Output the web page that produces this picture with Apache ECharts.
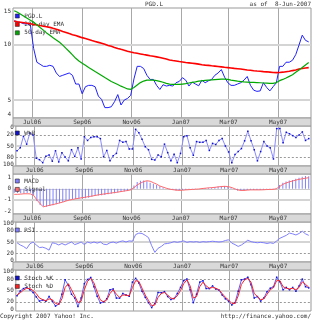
<!DOCTYPE html>
<html>
<head>
<meta charset="UTF-8">
<title>PGD.L</title>
<script src="https://cdn.jsdelivr.net/npm/echarts@6/dist/echarts.min.js"></script>
<style>
html,body{margin:0;padding:0;background:#fff;}
#main{width:313px;height:320px;}
</style>
</head>
<body>
<div id="main"></div>
<script>
// samples every 4 calendar days, 9-Jun-2006 .. 8-Jun-2007
var price = [13.4,13.2,13.1,12.9,12.9,12.7,9.5,8.0,7.8,7.6,
  7.6,7.7,7.6,7.0,6.7,6.8,6.9,7.0,6.8,6.1,
  6.1,5.4,5.9,6.0,6.0,5.9,5.25,5.04,4.55,4.55,
  4.6,4.9,5.35,4.7,5.0,5.1,5.3,6.5,7.6,7.6,
  7.4,6.8,6.46,6.46,6.0,5.7,6.05,5.95,6.0,5.95,
  6.2,6.3,6.6,6.4,5.95,6.25,6.1,5.97,6.4,6.2,
  6.35,6.46,6.8,7.0,7.3,6.65,6.2,6.0,6.0,6.1,
  6.2,6.4,6.7,6.0,5.65,5.57,5.6,6.2,5.85,5.6,
  5.9,6.2,7.6,7.6,8.0,8.0,8.2,8.8,9.9,11.2,
  10.5,10.3];
var ema200 = [13.33,13.24,13.16,13.08,13.0,12.92,12.8,12.71,12.63,12.52,
  12.43,12.34,12.19,12.05,11.89,11.73,11.59,11.42,11.27,11.14,
  11.0,10.86,10.74,10.61,10.48,10.36,10.24,10.12,9.99,9.86,
  9.75,9.62,9.5,9.39,9.29,9.18,9.08,9.0,8.94,8.87,
  8.8,8.74,8.67,8.61,8.55,8.48,8.4,8.32,8.23,8.17,
  8.12,8.07,8.03,7.98,7.94,7.9,7.86,7.81,7.76,7.72,
  7.69,7.65,7.62,7.59,7.55,7.51,7.48,7.45,7.41,7.38,
  7.35,7.31,7.27,7.24,7.2,7.17,7.15,7.12,7.1,7.07,
  7.04,7.03,7.04,7.07,7.11,7.15,7.21,7.27,7.35,7.4,
  7.45,7.48];
var ema50 = [15.18,14.9,14.54,14.18,13.83,13.49,13.16,12.76,12.33,11.92,
  11.52,11.19,10.86,10.56,10.25,9.9,9.51,9.14,8.77,8.4,
  8.12,7.91,7.7,7.49,7.31,7.13,6.96,6.79,6.62,6.46,
  6.3,6.18,6.06,5.94,5.84,5.74,5.71,5.85,6.03,6.21,
  6.33,6.4,6.41,6.4,6.36,6.3,6.24,6.15,6.09,6.07,
  6.07,6.07,6.1,6.13,6.18,6.23,6.27,6.32,6.35,6.38,
  6.41,6.42,6.44,6.46,6.48,6.48,6.46,6.41,6.37,6.32,
  6.29,6.26,6.25,6.23,6.22,6.21,6.2,6.18,6.17,6.15,
  6.15,6.21,6.36,6.46,6.58,6.71,6.85,7.07,7.27,7.49,
  7.73,7.97];
var wpr = [63,55,24,45,15,20,83,87,95,78,
  74,91,63,93,68,80,90,60,78,55,
  85,25,35,27,25,25,30,79,62,90,
  76,70,35,40,38,58,58,5,14,32,
  52,60,86,88,74,79,45,68,90,72,
  95,70,25,22,55,75,38,40,40,35,
  62,43,46,35,30,50,66,95,73,65,
  57,36,10,36,60,90,65,38,50,55,
  85,3,3,41,13,17,22,27,20,12,
  35,30];
var macd = [-0.35,-0.38,-0.4,-0.42,-0.38,-0.35,-0.6,-1.1,-1.45,-1.6,
  -1.62,-1.55,-1.48,-1.4,-1.3,-1.2,-1.1,-1.0,-0.95,-0.92,
  -0.9,-0.88,-0.85,-0.8,-0.72,-0.65,-0.6,-0.58,-0.55,-0.5,
  -0.45,-0.4,-0.33,-0.3,-0.25,-0.2,-0.12,0.3,0.6,0.72,
  0.75,0.68,0.55,0.45,0.35,0.22,0.12,0.02,-0.05,-0.1,
  -0.15,-0.15,-0.12,-0.08,-0.07,-0.05,-0.03,0.0,0.05,0.07,
  0.1,0.12,0.15,0.2,0.25,0.25,0.2,0.1,-0.05,-0.15,
  -0.18,-0.15,-0.1,-0.08,-0.1,-0.12,-0.1,-0.08,-0.06,-0.05,
  -0.04,0.05,0.35,0.55,0.65,0.75,0.8,0.9,1.0,1.08,
  1.15,1.12];
var signal = [-0.5,-0.5,-0.48,-0.45,-0.45,-0.46,-0.6,-1.0,-1.35,-1.62,
  -1.55,-1.48,-1.42,-1.35,-1.27,-1.2,-1.1,-1.02,-0.96,-0.9,
  -0.85,-0.8,-0.76,-0.7,-0.66,-0.6,-0.55,-0.5,-0.46,-0.42,
  -0.38,-0.34,-0.3,-0.25,-0.2,-0.16,-0.1,0.1,0.35,0.5,
  0.65,0.72,0.68,0.55,0.42,0.25,0.15,0.05,-0.03,-0.08,
  -0.12,-0.14,-0.13,-0.1,-0.08,-0.06,-0.04,-0.02,0.02,0.05,
  0.08,0.1,0.13,0.17,0.2,0.22,0.2,0.13,0.02,-0.1,
  -0.15,-0.15,-0.12,-0.1,-0.1,-0.1,-0.1,-0.09,-0.07,-0.06,
  -0.05,0.0,0.2,0.4,0.52,0.62,0.7,0.78,0.85,0.9,
  0.95,1.0];
var rsi = [48,42,38,32,45,50,42,35,36,33,
  28,48,46,42,46,42,46,50,43,46,
  50,43,50,47,50,47,50,44,43,48,
  50,47,51,53,50,53,52,70,74,73,
  68,62,40,22,33,38,45,46,48,51,
  49,51,53,49,51,50,51,49,51,50,
  51,52,51,50,51,54,56,47,43,38,
  42,48,55,51,49,48,49,48,46,48,
  46,53,60,64,68,74,72,69,73,79,
  72,68];
var stochK = [36,49,55,58,52,45,33,22,25,22,
  34,22,9,14,40,78,64,40,30,8,
  30,68,79,84,60,35,17,20,28,52,
  54,30,30,42,38,35,72,82,70,48,
  32,18,5,16,45,44,47,34,26,29,
  42,58,76,80,52,18,40,72,76,55,
  55,62,54,51,38,28,22,12,18,48,
  78,80,85,65,30,34,22,30,47,56,
  60,85,73,52,58,52,58,48,62,80,
  60,57];
var stochD = [38,44,51,56,55,50,42,30,26,23,
  28,26,16,13,28,58,68,52,36,18,
  22,52,74,82,70,46,25,20,25,42,
  52,40,32,38,38,36,58,76,74,56,
  38,24,10,12,32,42,45,38,30,28,
  36,50,68,78,62,30,34,60,72,62,
  56,58,56,52,42,32,25,16,16,36,
  66,78,82,72,42,34,26,28,40,52,
  58,76,76,60,56,54,56,52,58,73,
  66,59];
var monthTicks = ['2006-07-01','2006-09-01','2006-11-01','2007-01-01','2007-03-01','2007-05-01'];
var monthLabels = ['Jul06','Sep06','Nov06','Jan07','Mar07','May07'];
var priceTicks = [4, 5, 10, 15];
var oscTicks = [0, 20, 50, 80, 100];
var macdTicks = [-2, -1, 0, 1];

var DAY = 86400000;
var dates = [];
for (var i = 0; i < price.length; i++) dates.push(Date.UTC(2006, 5, 9) + i * 4 * DAY);
var xMin = Date.UTC(2006, 5, 7, 12), xMax = Date.UTC(2007, 5, 10, 20);
var tickMs = monthTicks.map(function (s) { return Date.parse(s); });
var FONT = '"DejaVu Sans Mono", monospace';
var TXT = '#333';
var pMin = 3.999, pMax = 15.7;

function pairs(arr) { return arr.map(function (v, k) { return [dates[k], v]; }); }

var gridPos = [[8, 110], [126, 40], [174, 40], [222, 40], [270, 41]];
var grids = gridPos.map(function (g) {
  return { left: 13, right: 2, top: g[0], height: g[1], show: true, backgroundColor: '#fff', borderColor: '#999', borderWidth: 1 };
});

var xAxes = gridPos.map(function (g, k) {
  return {
    type: 'value', gridIndex: k, min: xMin, max: xMax, z: 10,
    axisLine: { show: false }, axisTick: { show: false }, splitLine: { show: false },
    axisLabel: {
      show: k < 4, customValues: tickMs, fontSize: 6, fontFamily: FONT, color: TXT, margin: 1, lineHeight: 6,
      formatter: function (v) { var j = tickMs.indexOf(v); return j < 0 ? '' : monthLabels[j]; }
    }
  };
});

function yLabel(vals) {
  return { customValues: vals, fontSize: 6, fontFamily: FONT, color: TXT, margin: 2 };
}
var noLine = { show: false };
var yAxes = [
  { type: 'log', gridIndex: 0, min: pMin, max: pMax, axisLabel: { show: false }, axisLine: noLine, axisTick: noLine, splitLine: noLine },
  { type: 'value', gridIndex: 1, inverse: true, min: -4, max: 104, axisLabel: yLabel(oscTicks), axisLine: noLine, axisTick: noLine, splitLine: noLine },
  { type: 'value', gridIndex: 2, min: -2.27, max: 1.33, axisLabel: yLabel(macdTicks), axisLine: noLine, axisTick: noLine, splitLine: noLine },
  { type: 'value', gridIndex: 3, min: -4, max: 104, axisLabel: yLabel(oscTicks), axisLine: noLine, axisTick: noLine, splitLine: noLine },
  { type: 'value', gridIndex: 4, min: -4, max: 104, axisLabel: yLabel(oscTicks), axisLine: noLine, axisTick: noLine, splitLine: noLine }
];

var vLine = { color: '#a8a8a8', width: 1, type: 'solid' };
var heavy = { color: '#d4d4d4', width: 2, type: 'solid' };
var dash = { color: '#999', width: 1, type: [2, 2] };
var hidden = { color: 'rgba(255,255,255,0)', width: 1, type: 'solid' };
function gridLines(k, yi, hl) {
  var d = tickMs.map(function (t) { return { xAxis: t, lineStyle: vLine }; });
  hl.forEach(function (h) { d.push({ yAxis: h[0], lineStyle: h[1], label: h[2] || { show: false } }); });
  return { type: 'line', xAxisIndex: k, yAxisIndex: yi, data: [], silent: true, z: 1,
    markLine: { silent: true, symbol: 'none', label: { show: false }, animation: false, z: 1, data: d } };
}
// price-axis tick labels ride on the log axis through markLine labels
function pLabel(v, extra) {
  return Object.assign({ show: true, position: 'start', distance: 2, formatter: String(v), fontSize: 6, fontFamily: FONT, color: TXT }, extra || {});
}
function line(name, k, yi, arr, color, width, z) {
  return { name: name, type: 'line', xAxisIndex: k, yAxisIndex: yi, data: pairs(arr), showSymbol: false, symbol: 'none',
    color: color, lineStyle: { color: color, width: width }, z: z || 3, silent: true };
}
function dotted(s, dotColor) {
  s.symbol = 'rect'; s.showSymbol = true; s.symbolSize = 1.5;
  s.itemStyle = { color: dotColor };
  return s;
}

var series = [
  gridLines(0, 0, [
    [priceTicks[0] * 1.004, hidden, pLabel(priceTicks[0], { verticalAlign: 'bottom' })],
    [priceTicks[1], heavy, pLabel(priceTicks[1])],
    [priceTicks[2], heavy, pLabel(priceTicks[2])],
    [priceTicks[3], hidden, pLabel(priceTicks[3])]
  ]),
  gridLines(1, 1, [[20, dash], [50, heavy], [80, dash]]),
  gridLines(2, 2, [[-1, heavy], [0, { color: '#ccc', width: 1, type: 'solid' }]]),
  gridLines(3, 3, [[20, dash], [50, heavy], [80, dash]]),
  gridLines(4, 4, [[20, dash], [50, heavy], [80, dash]]),
  line('PGD.L', 0, 0, price, '#2020ff', 1),
  line('200-day EMA', 0, 0, ema200, '#ff0000', 1.6, 4),
  line('50-day EMA', 0, 0, ema50, '#00a800', 1.2, 4),
  dotted(line('W%R', 1, 1, wpr, '#8a8aff', 1), '#1010d0'),
  { name: 'MACD', type: 'bar', xAxisIndex: 2, yAxisIndex: 2, data: pairs(macd), barWidth: 1, color: '#7f7fff', itemStyle: { color: '#7f7fff' }, z: 3, silent: true },
  line('Signal', 2, 2, signal, '#ff6a6a', 1, 4),
  line('RSI', 3, 3, rsi, '#7f7fff', 1),
  dotted(line('Stoch %K', 4, 4, stochK, '#5a5aff', 1), '#1010d0'),
  line('Stoch %D', 4, 4, stochD, '#ff2020', 1, 4)
];

function lg(names, top) {
  return { data: names, orient: 'vertical', left: 15, top: top, icon: 'rect', itemWidth: 4, itemHeight: 4, itemGap: 2.4,
    padding: 0, selectedMode: false, itemStyle: { borderColor: '#222', borderWidth: 0.6 },
    textStyle: { fontSize: 6, fontFamily: FONT, color: TXT, lineHeight: 6 } };
}
var legends = [
  lg(['PGD.L', '200-day EMA', '50-day EMA'], 13),
  lg(['W%R'], 130),
  lg(['MACD', 'Signal'], 178),
  lg(['RSI'], 227),
  lg(['Stoch %K', 'Stoch %D'], 275)
];

function band(y) {
  return { type: 'rect', z: 1, silent: true, shape: { x: 13, y: y, width: 298, height: 8 }, style: { fill: '#d9d9d9', stroke: '#999', lineWidth: 1 } };
}
function txt(s, x, y, align) {
  return { type: 'text', z: 20, silent: true, style: { text: s, x: x, y: y, font: '6px ' + FONT, fill: TXT, textAlign: align, textVerticalAlign: 'middle' } };
}

var chart = echarts.init(document.getElementById('main'));
chart.setOption({
  animation: false,
  backgroundColor: '#fff',
  grid: grids,
  xAxis: xAxes,
  yAxis: yAxes,
  legend: legends,
  series: series,
  graphic: [
    band(118), band(166), band(214), band(262),
    txt('PGD.L', 154, 4, 'center'),
    txt('as of  8-Jun-2007', 311, 4, 'right'),
    txt('Copyright 2007 Yahoo! Inc.', 0, 316, 'left'),
    txt('http://finance.yahoo.com/', 311, 316, 'right')
  ]
});
</script>
</body>
</html>
